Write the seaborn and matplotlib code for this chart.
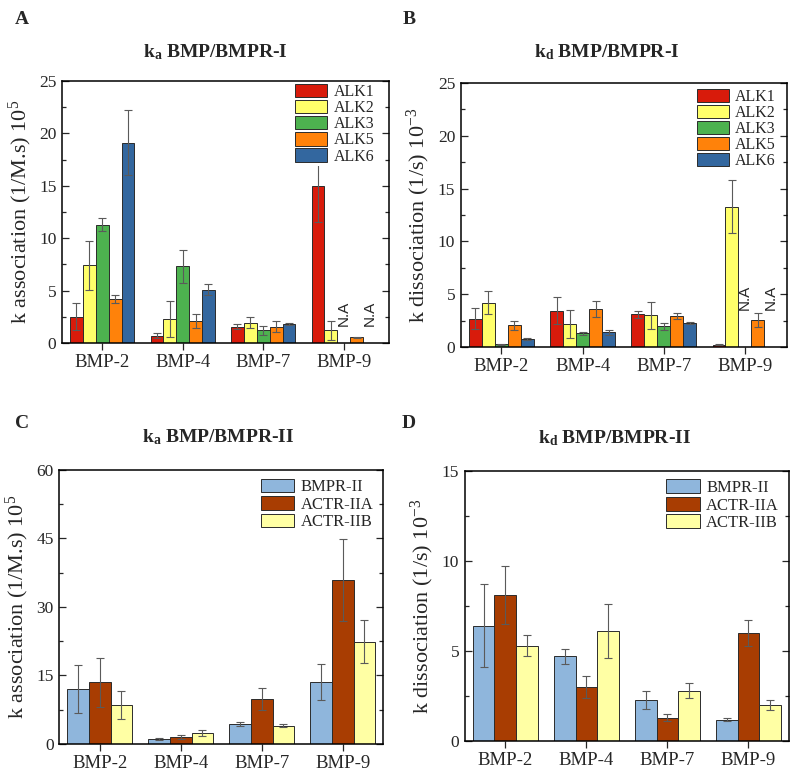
import numpy as np
import pandas as pd
import matplotlib
matplotlib.use("Agg")
import matplotlib.pyplot as plt
import seaborn as sns
from matplotlib.ticker import MultipleLocator

# ---------------- data ----------------
ligands = ["BMP-2", "BMP-4", "BMP-7", "BMP-9"]
type1 = ["ALK1", "ALK2", "ALK3", "ALK5", "ALK6"]
type2 = ["BMPR-II", "ACTR-IIA", "ACTR-IIB"]
nan = np.nan

# A: ka BMP/BMPR-I (1/M.s x 10^5)
ka1_alk1 = [2.5, 0.7, 1.55, 15.0]
ka1_alk2 = [7.4, 2.3, 1.95, 1.2]
ka1_alk3 = [11.3, 7.3, 1.2, nan]
ka1_alk5 = [4.2, 2.1, 1.55, 0.55]
ka1_alk6 = [19.1, 5.1, 1.8, nan]
ka1_alk1_err = [1.3, 0.25, 0.25, 3.5]
ka1_alk2_err = [2.3, 1.7, 0.5, 0.9]
ka1_alk3_err = [0.6, 1.6, 0.4, nan]
ka1_alk5_err = [0.4, 0.7, 0.5, 0.05]
ka1_alk6_err = [3.1, 0.5, 0.08, nan]

# B: kd BMP/BMPR-I (1/s x 10^-3)
kd1_alk1 = [2.7, 3.45, 3.1, 0.2]
kd1_alk2 = [4.2, 2.2, 3.0, 13.3]
kd1_alk3 = [0.25, 1.3, 1.95, nan]
kd1_alk5 = [2.05, 3.6, 2.95, 2.55]
kd1_alk6 = [0.8, 1.4, 2.27, nan]
kd1_alk1_err = [1.0, 1.25, 0.35, 0.05]
kd1_alk2_err = [1.1, 1.35, 1.3, 2.5]
kd1_alk3_err = [0.05, 0.15, 0.35, nan]
kd1_alk5_err = [0.4, 0.8, 0.28, 0.65]
kd1_alk6_err = [0.1, 0.25, 0.08, nan]

# C: ka BMP/BMPR-II (1/M.s x 10^5)
ka2_bmpr2 = [12.0, 1.0, 4.3, 13.6]
ka2_actr2a = [13.5, 1.5, 9.9, 35.9]
ka2_actr2b = [8.5, 2.4, 4.0, 22.4]
ka2_bmpr2_err = [5.2, 0.2, 0.45, 4.0]
ka2_actr2a_err = [5.3, 0.45, 2.4, 9.0]
ka2_actr2b_err = [3.1, 0.65, 0.35, 4.7]

# D: kd BMP/BMPR-II (1/s x 10^-3)
kd2_bmpr2 = [6.4, 4.7, 2.3, 1.18]
kd2_actr2a = [8.1, 3.0, 1.3, 6.0]
kd2_actr2b = [5.3, 6.1, 2.8, 2.0]
kd2_bmpr2_err = [2.3, 0.4, 0.5, 0.08]
kd2_actr2a_err = [1.6, 0.6, 0.2, 0.7]
kd2_actr2b_err = [0.6, 1.5, 0.4, 0.3]

colors1 = ["#d81b0b", "#ffff6a", "#4db24f", "#ff820a", "#33679f"]
colors2 = ["#8fb6dc", "#a83d02", "#ffffa4"]

# ---------------- style ----------------
sns.set_style("ticks")
plt.rcParams["font.family"] = ["Liberation Serif", "DejaVu Serif"]
plt.rcParams["mathtext.fontset"] = "custom"
plt.rcParams["mathtext.rm"] = "Liberation Serif"
plt.rcParams["mathtext.it"] = "Liberation Serif:italic"
plt.rcParams["mathtext.bf"] = "Liberation Serif:bold"
plt.rcParams["axes.linewidth"] = 1.1

fig = plt.figure(figsize=(8.0, 7.77), dpi=100)


def panel(rect, names, vals, errs, colors, ylim, major, ylabel, xlim,
          leg_anchor, leg_size, leg_space, na=None):
    ax = fig.add_axes(rect)
    rows = []
    for name, v in zip(names, vals):
        for lig, y in zip(ligands, v):
            if not np.isnan(y):
                rows.append({"ligand": lig, "receptor": name, "value": y})
    df = pd.DataFrame(rows)
    sns.barplot(data=df, x="ligand", y="value", hue="receptor",
                order=ligands, hue_order=names,
                palette=dict(zip(names, colors)), errorbar=None,
                width=0.8, edgecolor="#2b2b2b", linewidth=0.7, ax=ax,
                saturation=1)
    n = len(names)
    w = 0.8 / n
    for j, (v, e) in enumerate(zip(vals, errs)):
        xs = np.arange(len(ligands)) - 0.4 + (j + 0.5) * w
        v = np.asarray(v, float)
        e = np.asarray(e, float)
        ok = ~np.isnan(v)
        ax.errorbar(xs[ok], v[ok], yerr=e[ok], fmt="none", ecolor="#5a5a5a",
                    elinewidth=0.8, capsize=2.6, capthick=0.8, zorder=3)
    if na is not None:
        for j, yb in na:
            ax.text(3 - 0.4 + (j + 0.5) * w, yb, "N.A", rotation=90,
                    ha="center", va="bottom", fontsize=11,
                    family=["Liberation Sans", "DejaVu Sans"])
    ax.set_xlim(*xlim)
    ax.set_ylim(*ylim)
    ax.yaxis.set_major_locator(MultipleLocator(major))
    ax.yaxis.set_minor_locator(MultipleLocator(major / 2))
    ax.tick_params(axis="y", which="both", direction="in", right=True,
                   labelsize=12.5, pad=4)
    ax.tick_params(axis="y", which="major", length=5, width=0.9)
    ax.tick_params(axis="y", which="minor", length=3, width=0.9)
    ax.tick_params(axis="x", direction="out", length=5, width=0.9,
                   labelsize=13.5, pad=3, top=False)
    ax.set_xlabel("")
    ax.set_ylabel(ylabel, fontsize=16, labelpad=4)
    for s in ax.spines.values():
        s.set_visible(True)
        s.set_color("black")
    h, l = ax.get_legend_handles_labels()
    ax.legend(h, l, loc="upper right", bbox_to_anchor=leg_anchor,
              fontsize=leg_size, frameon=True, facecolor="white",
              edgecolor="none", framealpha=1, fancybox=False,
              handlelength=2.0, handleheight=0.9, labelspacing=leg_space,
              handletextpad=0.4, borderpad=0.1, borderaxespad=0.0)
    return ax


axA = panel([0.0775, 0.5586, 0.4085, 0.3372], type1,
            [ka1_alk1, ka1_alk2, ka1_alk3, ka1_alk5, ka1_alk6],
            [ka1_alk1_err, ka1_alk2_err, ka1_alk3_err, ka1_alk5_err, ka1_alk6_err],
            colors1, (0, 25), 5, r"k association (1/M.s) 10$^{5}$",
            (-0.5, 3.56), (0.96, 0.995), 11.5, 0.0, na=[(2, 1.6), (4, 1.6)])
axB = panel([0.576, 0.5534, 0.408, 0.3397], type1,
            [kd1_alk1, kd1_alk2, kd1_alk3, kd1_alk5, kd1_alk6],
            [kd1_alk1_err, kd1_alk2_err, kd1_alk3_err, kd1_alk5_err, kd1_alk6_err],
            colors1, (0, 25), 5, r"k dissociation (1/s) 10$^{-3}$",
            (-0.5, 3.52), (0.97, 0.985), 11.5, 0.0, na=[(2, 3.5), (4, 3.5)])
axC = panel([0.074, 0.0425, 0.405, 0.3526], type2,
            [ka2_bmpr2, ka2_actr2a, ka2_actr2b],
            [ka2_bmpr2_err, ka2_actr2a_err, ka2_actr2b_err],
            colors2, (0, 60), 15, r"k association (1/M.s) 10$^{5}$",
            (-0.5, 3.5), (0.975, 0.975), 12, 0.05)
axD = panel([0.581, 0.0463, 0.405, 0.3475], type2,
            [kd2_bmpr2, kd2_actr2a, kd2_actr2b],
            [kd2_bmpr2_err, kd2_actr2a_err, kd2_actr2b_err],
            colors2, (0, 15), 5, r"k dissociation (1/s) 10$^{-3}$",
            (-0.5, 3.5), (0.975, 0.975), 12, 0.05)

# titles
tkw = dict(ha="center", va="center", fontsize=14, fontweight="bold")
fig.text(215 / 800, 1 - 52 / 777, r"k$_{\mathbf{a}}$ BMP/BMPR-I", **tkw)
fig.text(607 / 800, 1 - 52 / 777, r"k$_{\mathbf{d}}$ BMP/BMPR-I", **tkw)
fig.text(218 / 800, 1 - 437 / 777, r"k$_{\mathbf{a}}$ BMP/BMPR-II", **tkw)
fig.text(615 / 800, 1 - 438 / 777, r"k$_{\mathbf{d}}$ BMP/BMPR-II", **tkw)

# panel letters
lkw = dict(ha="center", va="center", fontsize=14, fontweight="bold")
fig.text(22 / 800, 1 - 19 / 777, "A", **lkw)
fig.text(409 / 800, 1 - 19 / 777, "B", **lkw)
fig.text(22 / 800, 1 - 424 / 777, "C", **lkw)
fig.text(409 / 800, 1 - 424 / 777, "D", **lkw)

fig.savefig("out.png", dpi=100)
